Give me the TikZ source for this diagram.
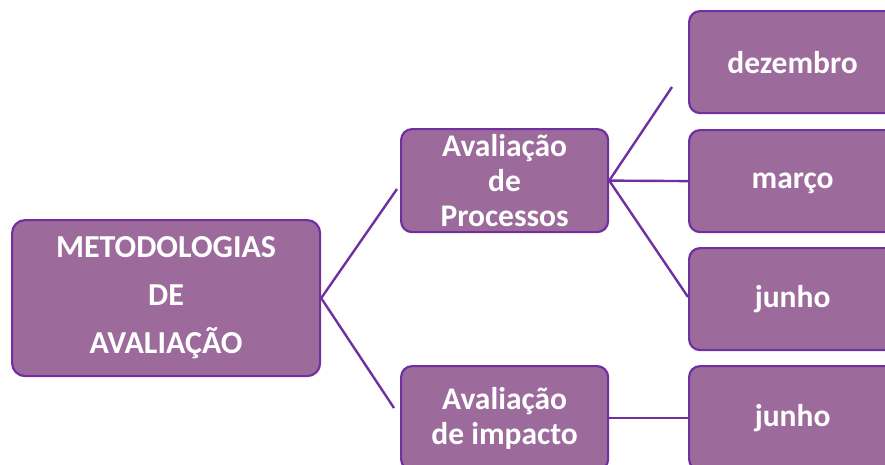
\documentclass[tikz,border=0pt]{standalone}
\usepackage{fontspec}
\setmainfont{Carlito}
\definecolor{boxfill}{RGB}{156,107,155}
\definecolor{boxline}{RGB}{112,48,160}
\begin{document}
\begin{tikzpicture}[x=1pt,y=-1pt,
  box/.style={draw=boxline,line width=2.2pt,fill=boxfill,rounded corners=11pt,
    text=white,font=\bfseries\fontsize{31.5}{35}\selectfont,align=center,
    inner sep=0pt,anchor=north west},
  link/.style={draw=boxline,line width=2.4pt}]
\useasboundingbox (0,0) rectangle (885,464);
\node[box,minimum width=308pt,minimum height=156pt,rounded corners=13pt,
  font=\bfseries\fontsize{32}{48}\selectfont] (main) at (11,219)
  {METODOLOGIAS\\DE\\AVALIAÇÃO\rule[-6pt]{0pt}{1pt}};
\node[box,minimum width=207pt,minimum height=103pt] (proc) at (400,128)
  {Avaliação\\de\\Processos};
\node[box,minimum width=207pt,minimum height=104pt] (imp) at (400,365)
  {Avaliação\\de impacto};
\node[box,minimum width=207pt,minimum height=102pt] (dez) at (688,10) {dezembro};
\node[box,minimum width=207pt,minimum height=102pt,text depth=0pt] (mar) at (688,129) {março};
\node[box,minimum width=207pt,minimum height=102pt] (jun1) at (688,247) {junho};
\node[box,minimum width=207pt,minimum height=104pt] (jun2) at (688,365) {junho};
\coordinate (mo) at (main.east);
\coordinate (c1) at (397,189);
\coordinate (c2) at (394,408);
\coordinate (po) at (proc.east);
\coordinate (d1) at (672,87);
\coordinate (j1) at (688,297);
\draw[link] (c1) -- (mo) -- (c2);
\draw[link] (d1) -- (po) -- (j1);
\draw[link] (po) -- (mar.west);
\draw[link] (imp.east) -- (jun2.west);
\end{tikzpicture}
\end{document}
